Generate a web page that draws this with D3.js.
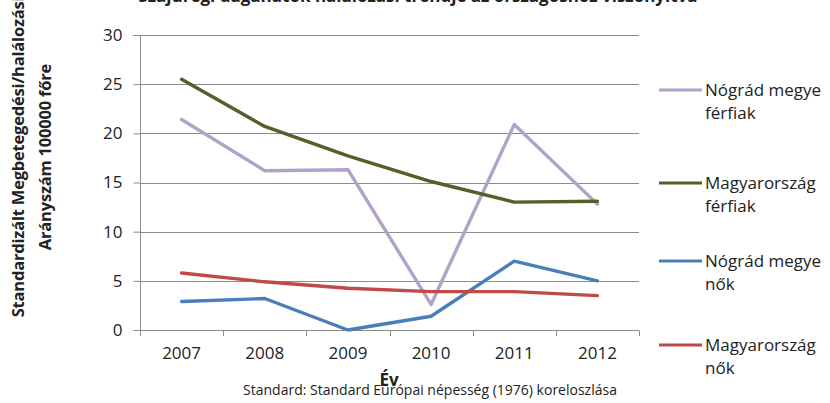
<!DOCTYPE html>
<html>
<head>
<meta charset="utf-8">
<script src="https://cdn.jsdelivr.net/npm/d3@7"></script>
<style>
  body { margin: 0; background: #fff; }
  svg { display: block; }
  text { font-family: "Open Sans", "Noto Sans", sans-serif; fill: #222; }
</style>
</head>
<body>
<svg id="chart" width="830" height="403"></svg>
<script>
// Years on the horizontal axis
const years = ["2007", "2008", "2009", "2010", "2011", "2012"];

// Standardised mortality rates per 100 000 inhabitants
const nogradFerfiak = [21.4, 16.2, 16.3, 2.6, 20.9, 12.8];
const magyarFerfiak = [25.5, 20.7, 17.7, 15.1, 13.0, 13.1];
const nogradNok = [2.9, 3.2, 0.0, 1.4, 7.0, 5.0];
const magyarNok = [5.8, 4.9, 4.25, 3.9, 3.9, 3.5];

const yTicks = [0, 5, 10, 15, 20, 25, 30];

const seriesNames = [
  ["Nógrád megye", "férfiak"],
  ["Magyarország", "férfiak"],
  ["Nógrád megye", "nők"],
  ["Magyarország", "nők"]
];
const seriesValues = [nogradFerfiak, magyarFerfiak, nogradNok, magyarNok];
const seriesColors = ["#b3a2c7", "#4f6228", "#4a7ebb", "#be4b48"];

const svg = d3.select("#chart");
const plotLeft = 140, plotRight = 639, plotTop = 35, plotBottom = 330;

const x = d3.scaleBand().domain(years).range([plotLeft, plotRight]).paddingInner(0).paddingOuter(0);
const y = d3.scaleLinear().domain([0, 30]).range([plotBottom, plotTop]);

// Horizontal gridlines
svg.append("g").selectAll("line").data(yTicks).join("line")
  .attr("x1", plotLeft).attr("x2", plotRight)
  .attr("y1", d => Math.round(y(d)) + 0.5).attr("y2", d => Math.round(y(d)) + 0.5)
  .attr("stroke", "#8c8c8c").attr("stroke-width", 1);

// Vertical axis with outward ticks
const yAxis = d3.axisLeft(y).tickValues(yTicks).tickSize(7).tickPadding(11);
const gy = svg.append("g").attr("transform", `translate(${plotLeft + 0.5},0)`).call(yAxis);
gy.select(".domain").attr("stroke", "#8c8c8c").attr("d", `M-7,${plotTop + 0.5}H0V${plotBottom + 0.5}H-7`);
gy.selectAll(".tick line").attr("stroke", "#8c8c8c");
gy.selectAll(".tick text").style("font-size", "17px").attr("fill", "#222")
  .style("font-family", "'Open Sans', sans-serif");

// Horizontal axis: ticks at category boundaries, labels centred
const xAxisG = svg.append("g");
const boundaries = years.map(d => x(d)).concat([plotRight]);
xAxisG.selectAll("line").data(boundaries).join("line")
  .attr("x1", d => Math.round(d) + 0.5).attr("x2", d => Math.round(d) + 0.5)
  .attr("y1", plotBottom + 0.5).attr("y2", plotBottom + 6)
  .attr("stroke", "#8c8c8c");
xAxisG.selectAll("text").data(years).join("text")
  .attr("x", d => x(d) + x.bandwidth() / 2)
  .attr("y", 359)
  .attr("text-anchor", "middle")
  .style("font-size", "17px")
  .text(d => d);

// Series lines
const line = d3.line()
  .x((d, i) => x(years[i]) + x.bandwidth() / 2)
  .y(d => y(d));

seriesValues.forEach((vals, k) => {
  svg.append("path")
    .datum(vals)
    .attr("d", line)
    .attr("fill", "none")
    .attr("stroke", seriesColors[k])
    .attr("stroke-width", 3.4)
    .attr("stroke-linejoin", "round")
    .attr("stroke-linecap", "round");
});

// Legend
const legendY = [90, 183, 261, 345];
const legend = svg.append("g");
seriesNames.forEach((name, k) => {
  const g = legend.append("g").attr("transform", `translate(0,${legendY[k]})`);
  g.append("line").attr("x1", 659).attr("x2", 702).attr("y1", 0).attr("y2", 0)
    .attr("stroke", seriesColors[k]).attr("stroke-width", 3);
  g.append("text").attr("x", 705).attr("y", 6).style("font-size", "17px").text(name[0]);
  g.append("text").attr("x", 705).attr("y", 29).style("font-size", "17px").text(name[1]);
});

// Vertical axis title
const yt = svg.append("g").attr("transform", "translate(0,157) rotate(-90)");
yt.append("text").attr("x", 0).attr("y", 24).attr("text-anchor", "middle")
  .style("font-size", "16.5px").style("font-weight", "bold")
  .style("letter-spacing", "-0.2px")
  .text("Standardizált Megbetegedési/halálozási");
yt.append("text").attr("x", 0).attr("y", 51).attr("text-anchor", "middle")
  .style("font-size", "16.5px").style("font-weight", "bold")
  .style("letter-spacing", "-0.2px")
  .text("Arányszám 100000 főre");

// Horizontal axis title and footnote
svg.append("text").attr("x", 389).attr("y", 386).attr("text-anchor", "middle")
  .style("font-size", "17px").style("font-weight", "bold").text("Év");
svg.append("text").attr("x", 430).attr("y", 395).attr("text-anchor", "middle")
  .style("font-size", "14px").text("Standard: Standard Európai népesség (1976) koreloszlása");

// Chart title (runs off the top edge)
svg.append("text").attr("x", 418).attr("y", 2).attr("text-anchor", "middle")
  .style("font-size", "17px").style("font-weight", "bold")
  .text("Szájüregi daganatok halálozási trendje az országoshoz viszonyítva");
</script>
</body>
</html>
